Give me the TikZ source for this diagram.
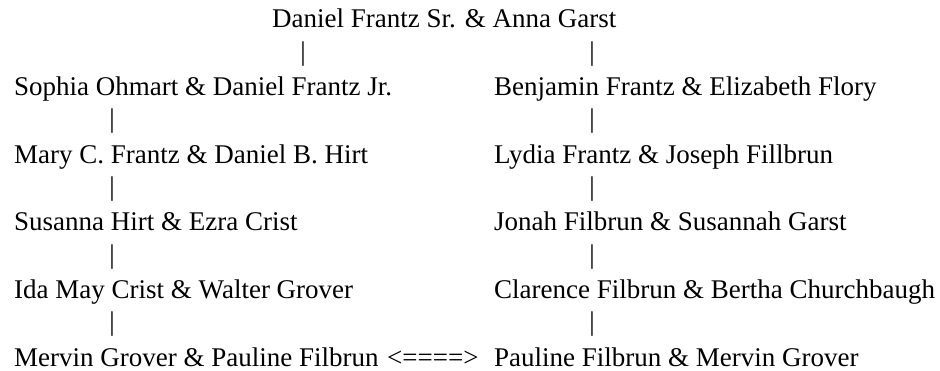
\documentclass[tikz,border=0pt]{standalone}
\usepackage{fontspec}
\setmainfont{Liberation Serif}
\begin{document}
\begin{tikzpicture}[x=1pt,y=1pt,
  person/.style={anchor=base west,inner sep=0pt,font=\fontsize{27}{32}\selectfont},
  bar/.style={anchor=center,inner sep=0pt,font=\fontsize{27}{32}\selectfont},
  arrowtext/.style={anchor=base west,inner sep=0pt,font=\fontsize{27}{32}\selectfont}]
\useasboundingbox (0,0) rectangle (940,370);
% baselines (from top): 28, 95.6, 163.2, 230.8, 298.4, 366
\node[person] (top) at (272,{370-28}) {Daniel Frantz Sr. \& Anna Garst};
\node[bar] (b0l) at (303,{370-53.8}) {|};
\node[bar] (b0r) at (592,{370-53.8}) {|};
\node[person] (l1) at (14,{370-95.6}) {Sophia Ohmart \& Daniel Frantz Jr.};
\node[person] (r1) at (494,{370-95.6}) {Benjamin Frantz \& Elizabeth Flory};
\node[bar] (b1l) at (112,{370-121.4}) {|};
\node[bar] (b1r) at (592,{370-121.4}) {|};
\node[person] (l2) at (14,{370-163.2}) {Mary C. Frantz \& Daniel B. Hirt};
\node[person] (r2) at (494,{370-163.2}) {Lydia Frantz \& Joseph Fillbrun};
\node[bar] (b2l) at (112,{370-189}) {|};
\node[bar] (b2r) at (592,{370-189}) {|};
\node[person] (l3) at (14,{370-230.8}) {Susanna Hirt \& Ezra Crist};
\node[person] (r3) at (494,{370-230.8}) {Jonah Filbrun \& Susannah Garst};
\node[bar] (b3l) at (112,{370-256.6}) {|};
\node[bar] (b3r) at (592,{370-256.6}) {|};
\node[person] (l4) at (14,{370-298.4}) {Ida May Crist \& Walter Grover};
\node[person] (r4) at (494,{370-298.4}) {Clarence Filbrun \& Bertha Churchbaugh};
\node[bar] (b4l) at (112,{370-324.2}) {|};
\node[bar] (b4r) at (592,{370-324.2}) {|};
\node[person] (l5) at (14,{370-366}) {Mervin Grover \& Pauline Filbrun};
\node[arrowtext] (eq) at (387,{370-366}) {<====>};
\node[person] (r5) at (494,{370-366}) {Pauline Filbrun \& Mervin Grover};
\end{tikzpicture}
\end{document}
